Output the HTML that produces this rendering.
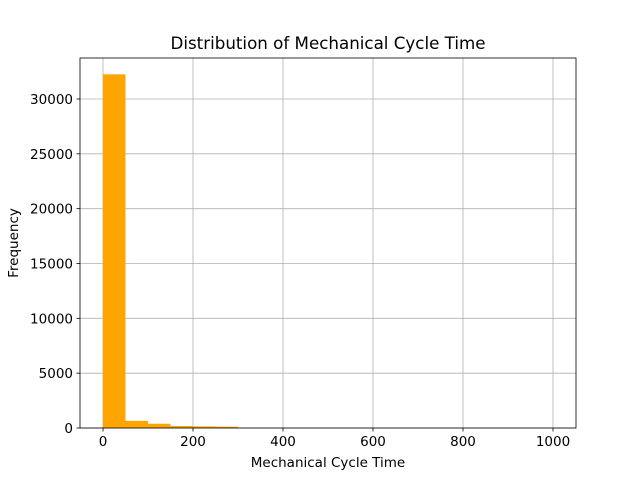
<!DOCTYPE html>
<html><head><meta charset="utf-8"><style>body{margin:0;background:#fff}svg{display:block;font-family:"DejaVu Sans","Liberation Sans",sans-serif}</style></head>
<body>
<svg id="chart" width="640" height="480"></svg>
<script>
const binEdgesStart = [0,50,100,150,200,250,300,350,400,450,500,550,600,650,700,750,800,850,900,950];
const binWidth = 50;
const counts = [32250,650,390,180,150,120,3,2,1,1,1,0,0,0,0,0,0,0,0,1];
const xTicks = [0,200,400,600,800,1000];
const yTicks = [0,5000,10000,15000,20000,25000,30000];
const NS='http://www.w3.org/2000/svg';
const svg=document.getElementById('chart');
const L=80,R=576,T=58,B=428;
const xs=v=>103+v*0.45;
const ys=v=>B-v*(329/30000);
function mk(tag,attrs,parent){const e=document.createElementNS(NS,tag);for(const k in attrs)e.setAttribute(k,attrs[k]);(parent||svg).appendChild(e);return e;}
xTicks.forEach(t=>{const l=mk('line',{x1:xs(t),x2:xs(t),y1:T,y2:B,stroke:'#b0b0b0','stroke-width':0.8});

});
yTicks.forEach(t=>{const l=mk('line',{x1:L,x2:R,y1:ys(t),y2:ys(t),stroke:'#b0b0b0','stroke-width':0.8});

});
counts.forEach((c,i)=>{if(c<=0)return;const x0=xs(binEdgesStart[i]),x1=xs(binEdgesStart[i]+binWidth);
const r=mk('rect',{x:x0,y:ys(c),width:x1-x0,height:B-ys(c),fill:'#ffa500'});

});
const f=mk('rect',{x:L,y:T,width:R-L,height:B-T,fill:'none',stroke:'#000','stroke-width':0.8});


xTicks.forEach(t=>{mk('line',{x1:xs(t),x2:xs(t),y1:B,y2:B+3.5,stroke:'#000','stroke-width':0.8});
const tx=mk('text',{x:xs(t),y:B+18,'text-anchor':'middle','font-size':13.5});tx.textContent=t;

});
yTicks.forEach(t=>{mk('line',{x1:L,x2:L-3.5,y1:ys(t),y2:ys(t),stroke:'#000','stroke-width':0.8});
const tx=mk('text',{x:L-7,y:ys(t)+5,'text-anchor':'end','font-size':13.5});tx.textContent=t;

});
const title=mk('text',{x:328,y:49,'text-anchor':'middle','font-size':16.7});title.textContent='Distribution of Mechanical Cycle Time';


const xl=mk('text',{x:328,y:467,'text-anchor':'middle','font-size':13.5});xl.textContent='Mechanical Cycle Time';


const yl=mk('text',{x:18,y:243,'text-anchor':'middle','font-size':13.5,transform:'rotate(-90 18 243)'});yl.textContent='Frequency';


</script>
</body></html>
